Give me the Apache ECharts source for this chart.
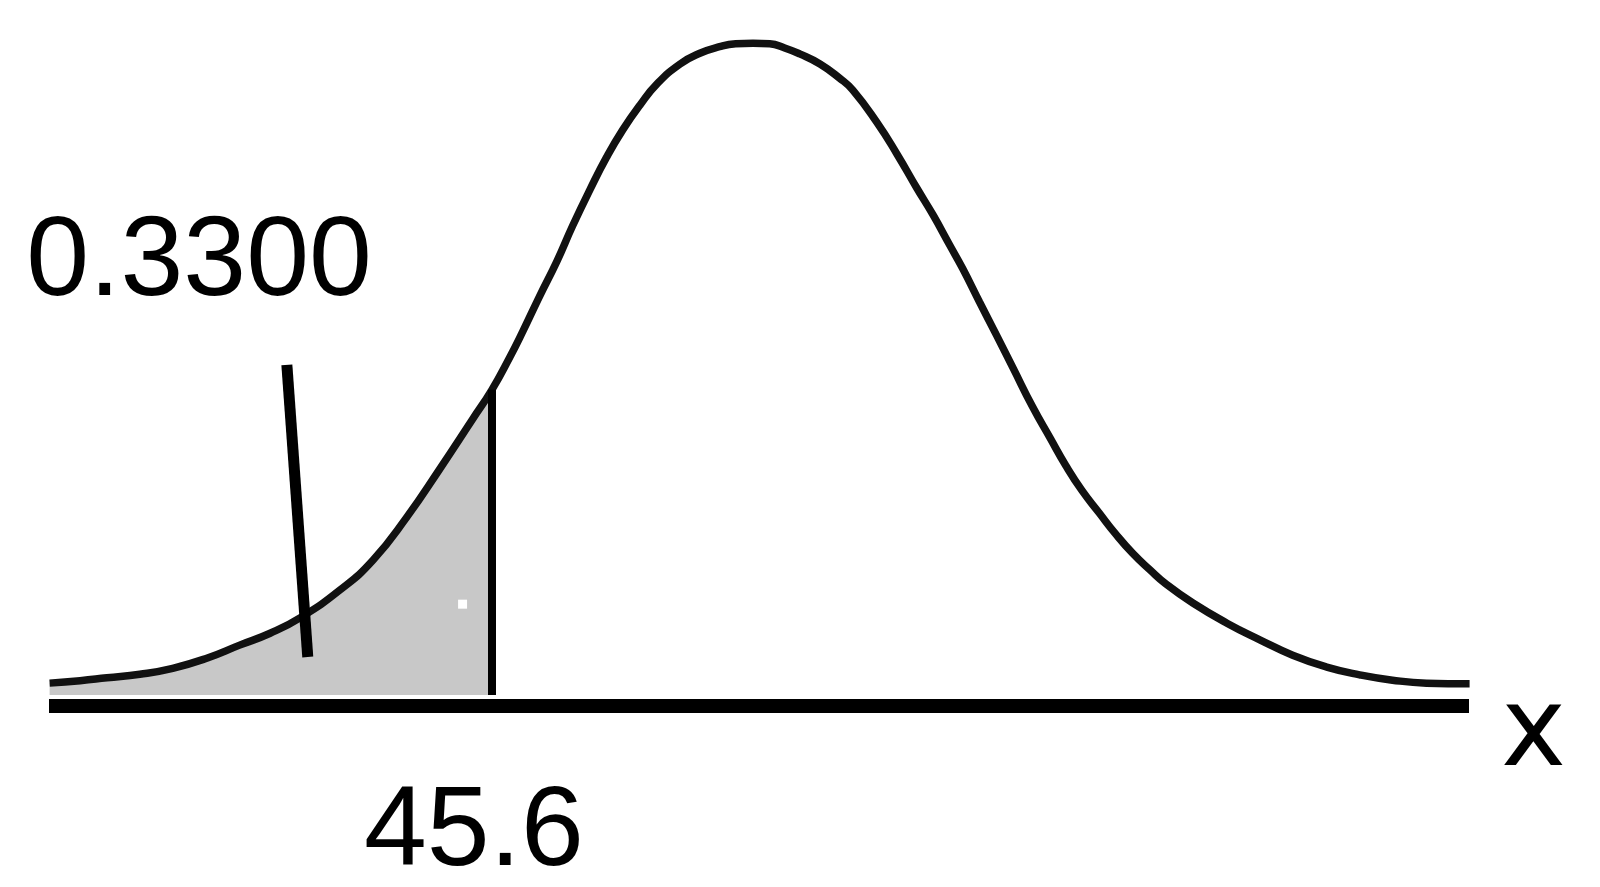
<!DOCTYPE html>
<html>
<head>
<meta charset="utf-8">
<script src="https://cdn.jsdelivr.net/npm/echarts@6/dist/echarts.min.js"></script>
<style>
html,body{margin:0;padding:0;background:#fff;}
#chart{width:1600px;height:887px;}
</style>
</head>
<body>
<div id="chart"></div>
<script>
// Curve (x in data units, y = relative density height)
const curveX = [38.20, 38.71, 39.16, 39.71, 40.26, 40.83, 41.38, 41.89, 42.39, 43.06, 43.61,
  44.18, 44.73, 45.28, 45.60, 45.90, 46.12, 46.40, 46.69, 46.95, 47.24, 47.52, 47.79, 48.08,
  48.36, 48.75, 49.08, 49.41, 49.68, 49.97, 50.25, 50.50, 50.75, 51.09, 51.42, 51.64, 52.04,
  52.38, 52.71, 52.98, 53.26, 53.48, 53.76, 54.05, 54.32, 54.65, 54.94, 55.20, 55.47, 55.76,
  56.04, 56.32, 56.61, 56.88, 57.33, 57.90, 58.45, 59.00, 59.57, 60.12, 60.67, 61.24, 61.96];
const curveY = [0.0020, 0.0024, 0.0029, 0.0035, 0.0045, 0.0062, 0.0084, 0.0104, 0.0130, 0.0177, 0.0227,
  0.0300, 0.0381, 0.0465, 0.0514, 0.0569, 0.0613, 0.0672, 0.0731, 0.0790, 0.0851, 0.0906, 0.0952, 0.0994,
  0.1029, 0.1063, 0.1081, 0.1092, 0.1097, 0.1098, 0.1097, 0.1090, 0.1080, 0.1063, 0.1039, 0.1019, 0.0965,
  0.0911, 0.0854, 0.0809, 0.0758, 0.0718, 0.0662, 0.0605, 0.0551, 0.0485, 0.0433, 0.0387, 0.0345, 0.0307,
  0.0271, 0.0239, 0.0211, 0.0187, 0.0155, 0.0121, 0.0093, 0.0067, 0.0047, 0.0034, 0.0025, 0.0020, 0.0019];
const cutoff = 45.6;
const cutoffLabel = '45.6';
const areaLabel = '0.3300';
const axisName = 'x';

const curveData = curveX.map((x, i) => [x, curveY[i]]);
const shadedData = curveData.filter(p => p[0] <= cutoff);
const cutoffHeight = curveY[curveX.indexOf(cutoff)];

const FONT = '"Liberation Sans", Arial, sans-serif';
const chart = echarts.init(document.getElementById('chart'), null, {renderer: 'canvas'});
chart.setOption({
  animation: false,
  backgroundColor: '#ffffff',
  grid: {left: 49, right: 131, top: 42, bottom: 192, containLabel: false, outerBoundsMode: 'none'},
  xAxis: {
    type: 'value',
    min: 38.19,
    max: 61.95,
    offset: 11,
    name: axisName,
    nameLocation: 'end',
    nameGap: 32,
    nameTextStyle: {fontFamily: '"DejaVu Sans"', fontWeight: 'normal', fontSize: 110, color: '#000',
      verticalAlign: 'top', lineHeight: 60},
    axisLine: {show: true, onZero: false, lineStyle: {color: '#000', width: 14, cap: 'butt'}},
    axisTick: {show: false},
    splitLine: {show: false},
    axisLabel: {
      show: true,
      customValues: [cutoff],
      formatter: () => cutoffLabel,
      margin: 71,
      fontFamily: FONT, fontWeight: 'normal', fontSize: 113, color: '#000',
      padding: [0, 36, 0, 0]
    }
  },
  yAxis: {type: 'value', min: 0, max: 0.11, show: false, splitLine: {show: false}},
  series: [
    {
      type: 'line',
      data: shadedData,
      smooth: 0.5,
      showSymbol: false,
      clip: false,
      z: 1,
      lineStyle: {width: 0, opacity: 0},
      areaStyle: {color: '#c8c8c8', opacity: 1},
      markLine: {
        silent: true,
        symbol: 'none',
        label: {show: false},
        lineStyle: {color: '#000', width: 8, type: 'solid', cap: 'butt'},
        data: [[{coord: [cutoff, 0]}, {coord: [cutoff, cutoffHeight]}]]
      },
      markPoint: {
        silent: true,
        data: [
          {coord: [45.11, 0.0153], symbol: 'rect', symbolSize: 9, itemStyle: {color: '#ffffff'}, label: {show: false}}
        ]
      }
    },
    {
      type: 'line',
      data: curveData,
      smooth: 0.5,
      showSymbol: false,
      clip: false,
      z: 3,
      lineStyle: {color: '#111', width: 7.5},
      markLine: {
        silent: true,
        symbol: 'none',
        label: {show: false},
        lineStyle: {color: '#000', width: 11, type: 'solid', cap: 'butt'},
        data: [[{coord: [42.52, 0.0064]}, {coord: [42.17, 0.0556]}]]
      },
      markPoint: {
        silent: true,
        data: [{
          coord: [40.70, 0.0726],
          symbol: 'circle', symbolSize: 0,
          label: {show: true, position: 'inside', formatter: areaLabel,
            fontFamily: FONT, fontWeight: 'normal', fontSize: 113, color: '#000'}
        }]
      }
    }
  ]
});
</script>
</body>
</html>
